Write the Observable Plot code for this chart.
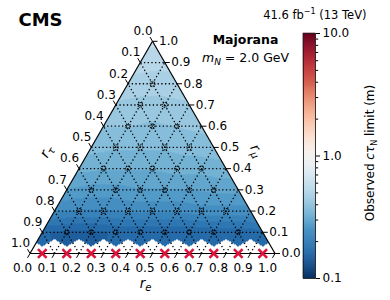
<!DOCTYPE html>
<html><head><meta charset="utf-8">
<script src="https://cdn.jsdelivr.net/npm/d3@7"></script>
<script src="https://cdn.jsdelivr.net/npm/@observablehq/plot@0.6"></script>
<style>
body{margin:0;background:#fff;}
#chart{position:relative;width:390px;height:300px;font-family:"DejaVu Sans",sans-serif;}
#chart svg{position:absolute;left:0;top:0;overflow:visible;}
</style></head><body><div id="chart"></div>
<script>
// ---------- data ----------
const tickValues = [0, 0.1, 0.2, 0.3, 0.4, 0.5, 0.6, 0.7, 0.8, 0.9, 1.0];
const tickLabels = ["0.0","0.1","0.2","0.3","0.4","0.5","0.6","0.7","0.8","0.9","1.0"];
// Observed c tau_N limit (m) on the 0.1 lattice; entry k is r_e = k/10
const lim_mu10 = [0.58];
const lim_mu09 = [0.53, 0.52];
const lim_mu08 = [0.48, 0.47, 0.48];
const lim_mu07 = [0.44, 0.43, 0.43, 0.44];
const lim_mu06 = [0.40, 0.40, 0.39, 0.40, 0.41];
const lim_mu05 = [0.37, 0.36, 0.36, 0.36, 0.37, 0.38];
const lim_mu04 = [0.33, 0.32, 0.32, 0.32, 0.33, 0.33, 0.34];
const lim_mu03 = [0.28, 0.27, 0.27, 0.28, 0.28, 0.28, 0.29, 0.29];
const lim_mu02 = [0.23, 0.22, 0.22, 0.23, 0.23, 0.23, 0.24, 0.24, 0.24];
const lim_mu01 = [0.16, 0.155, 0.155, 0.16, 0.16, 0.16, 0.16, 0.165, 0.165, 0.17];
// r_mu = 0 row: excluded points (red crosses)
const excludedRe = [0.05, 0.15, 0.25, 0.35, 0.45, 0.55, 0.65, 0.75, 0.85, 0.95];
// colour bar
const cbTicks = [0.1, 1, 10];
const cbTickLabels = ["0.1", "1.0", "10.0"];
const cbMinor = [0.2,0.3,0.4,0.5,0.6,0.7,0.8,0.9,2,3,4,5,6,7,8,9];

// ---------- helpers ----------
const limitRows = [lim_mu01, lim_mu02, lim_mu03, lim_mu04, lim_mu05, lim_mu06, lim_mu07, lim_mu08, lim_mu09, lim_mu10];
const S3 = Math.sqrt(3) / 2;
const cart = (e, mu) => ({x: e + mu / 2, y: mu * S3});
const PX = 245;           // px per unit (for tick lengths)
const L = 5 / PX;

function limitAt(P, Q) {
  if (Q <= 0) return null;
  const row = limitRows[Q - 1];
  if (!row) return null;
  const v = row[P];
  return v == null ? null : v;
}
const STEP = 1 / 20;
function field(x, y) {
  const q = (y / S3) * 10;
  const p = (x - (y / S3) / 2) * 10;
  if (q < -1e-9 || p < -1e-9 || p + q > 10 + 1e-9) return NaN;
  const i = Math.floor(p), j = Math.floor(q);
  const fp = p - i, fq = q - j;
  let verts;
  if (fp + fq <= 1) verts = [[i, j, 1 - fp - fq], [i + 1, j, fp], [i, j + 1, fq]];
  else verts = [[i + 1, j + 1, fp + fq - 1], [i + 1, j, 1 - fq], [i, j + 1, 1 - fp]];
  let best = verts[0];
  for (const v of verts) if (v[2] > best[2]) best = v;
  if (best[1] === 0) return NaN;
  let s = 0, sw = 0;
  for (const [P, Q, w] of verts) {
    const v = limitAt(P, Q);
    if (v != null && w > 0) { s += w * Math.log10(v); sw += w; }
  }
  if (!sw) {
    const v = limitAt(best[0], best[1]);
    return v == null ? NaN : v;
  }
  const lv = s / sw;
  return Math.pow(10, (Math.floor(lv / STEP) + 0.5) * STEP);
}

// grid lines
const inner = tickValues.filter(t => t > 0 && t < 1);
const grid = [];
for (const t of inner) {
  const a = cart(0, t), b = cart(1 - t, t);          // const r_mu
  grid.push({x1: a.x, y1: a.y, x2: b.x, y2: b.y});
  const c = cart(t, 0), d = cart(t, 1 - t);          // const r_e
  grid.push({x1: c.x, y1: c.y, x2: d.x, y2: d.y});
  const e = cart(1 - t, 0), f = cart(0, 1 - t);      // const r_tau
  grid.push({x1: e.x, y1: e.y, x2: f.x, y2: f.y});
}
const V = [cart(0, 0), cart(1, 0), cart(0, 1)];
const edges = [[0, 1], [1, 2], [2, 0]].map(([a, b]) => ({x1: V[a].x, y1: V[a].y, x2: V[b].x, y2: V[b].y}));

const bottomTicks = tickValues.map((t, k) => {
  const p = cart(t, 0);
  return {x: p.x, y: p.y, x2: p.x - L * 0.5, y2: p.y - L * S3, label: tickLabels[k]};
});
const leftTicks = tickValues.map((t, k) => {
  const p = cart(0, 1 - t);
  return {x: p.x, y: p.y, x2: p.x - L * 0.5, y2: p.y + L * S3, label: tickLabels[k]};
});
const rightTicks = tickValues.map((t, k) => {
  const p = cart(1 - t, t);
  return {x: p.x, y: p.y, x2: p.x + L, y2: p.y, label: tickLabels[k]};
});

const circles = [];
for (let Q = 1; Q <= 8; Q++) for (let P = 1; P + Q <= 9; P++) circles.push(cart(P / 10, Q / 10));
const crosses = excludedRe.map(e => cart(e, 0));

const colorOpts = {type: "log", domain: [0.1, 10], scheme: "rdbu", reverse: true};
const font = {fontFamily: "DejaVu Sans", fontSize: "12px"};

const main = Plot.plot({
  width: 390, height: 300, margin: 0,
  x: {domain: [0, 1], range: [29.5, 274.5], axis: null},
  y: {domain: [0, S3], range: [253, 253 - PX * S3], axis: null},
  color: colorOpts,
  style: {...font, background: "transparent"},
  marks: [
    Plot.raster({x1: 0, x2: 1, y1: 0, y2: S3, fill: field, pixelSize: 1}),
    Plot.link(grid, {x1: "x1", y1: "y1", x2: "x2", y2: "y2", stroke: "black", strokeWidth: 1.3, strokeDasharray: "1.3,2.4"}),
    Plot.dot(circles, {x: "x", y: "y", r: 2.5, stroke: "black", strokeWidth: 1.1, strokeDasharray: "1,0.9", fill: "none"}),
    Plot.link(edges, {x1: "x1", y1: "y1", x2: "x2", y2: "y2", stroke: "black", strokeWidth: 1.2}),
    Plot.link(bottomTicks, {x1: "x", y1: "y", x2: "x2", y2: "y2", stroke: "black", strokeWidth: 1}),
    Plot.link(leftTicks, {x1: "x", y1: "y", x2: "x2", y2: "y2", stroke: "black", strokeWidth: 1}),
    Plot.link(rightTicks, {x1: "x", y1: "y", x2: "x2", y2: "y2", stroke: "black", strokeWidth: 1}),
    Plot.text(bottomTicks, {x: "x", y: "y", text: "label", dx: -7.5, dy: 15, fontSize: 12}),
    Plot.text(leftTicks, {x: "x", y: "y", text: "label", dx: -9.5, dy: -10, fontSize: 12}),
    Plot.text(rightTicks, {x: "x", y: "y", text: "label", dx: 6.5, dy: 0, textAnchor: "start", fontSize: 12}),
    Plot.dot(crosses, {x: "x", y: "y", symbol: "times", r: 4, stroke: "#dc143c", strokeWidth: 2.6}),
    Plot.text(["rτ"], {x: 0.25, y: 0.5 * S3, dx: -45, dy: 4, rotate: -60, fontSize: 14}),
    Plot.text(["rμ"], {x: 0.75, y: 0.5 * S3, dx: 43, dy: 3, rotate: 60, fontSize: 14}),
    Plot.text(["re"], {x: 0.5, y: 0, dx: -7, dy: 30, fontSize: 13.5}),
    Plot.text(["CMS"], {frameAnchor: "top-left", dx: 18, dy: 20, lineAnchor: "middle", textAnchor: "start", fontSize: 18, fontWeight: "bold"}),
    Plot.text(["41.6 fb-1 (13 TeV)"], {frameAnchor: "top-left", dx: 366, dy: 15, lineAnchor: "middle", textAnchor: "end", fontSize: 11.5}),
    Plot.text(["Majorana"], {frameAnchor: "top-left", dx: 245, dy: 39, lineAnchor: "middle", textAnchor: "middle", fontSize: 12.5, fontWeight: "bold"}),
    Plot.text(["mN = 2.0 GeV"], {frameAnchor: "top-left", dx: 245, dy: 57, lineAnchor: "middle", textAnchor: "middle", fontSize: 12.5})
  ]
});

// colour bar
const nSteps = 240;
const cbSteps = d3.range(nSteps).map(k => {
  const lo = Math.pow(10, -1 + 2 * k / nSteps), hi = Math.pow(10, -1 + 2 * (k + 1) / nSteps);
  return {lo, hi, mid: Math.sqrt(lo * hi)};
});
const bar = Plot.plot({
  width: 390, height: 300,
  marginLeft: 303, marginRight: 75, marginTop: 33, marginBottom: 22,
  x: {domain: [0, 1], axis: null},
  y: {type: "log", domain: [0.1, 10], axis: null},
  color: colorOpts,
  style: {...font, background: "transparent"},
  marks: [
    Plot.rect(cbSteps, {x1: 0, x2: 1, y1: "lo", y2: "hi", fill: "mid", stroke: "mid", strokeWidth: 0.6}),
    Plot.frame({stroke: "#222", strokeWidth: 0.9}),
    Plot.axisY({anchor: "right", ticks: cbTicks, tickFormat: (d) => cbTickLabels[cbTicks.indexOf(d)], tickSize: 4, tickPadding: 3, fontSize: 12, label: null}),
    Plot.axisY({anchor: "right", ticks: cbMinor, tickFormat: () => "", tickSize: 2.2, label: null}),
    Plot.text(["Observed cτN limit (m)"], {frameAnchor: "right", dx: 55, dy: -3, rotate: -90, textAnchor: "middle", lineAnchor: "middle", fontSize: 12})
  ]
});

const root = document.getElementById("chart");
root.appendChild(main);
root.appendChild(bar);

// rich text (italic / sub- and superscripts)
function rich(svg, plain, parts) {
  d3.select(svg).selectAll("text").filter(function () { return this.textContent === plain; }).each(function () {
    const t = d3.select(this);
    t.selectAll("*").remove();
    t.text(null);
    for (const p of parts) {
      const s = t.append("tspan").text(p.t);
      if (p.i) s.attr("font-style", "italic");
      if (p.fs) s.attr("font-size", p.fs);
      if (p.dy) s.attr("dy", p.dy);
    }
  });
}
rich(main, "rτ", [{t: "r", i: 1}, {t: "τ", i: 1, fs: 10, dy: 3}]);
rich(main, "rμ", [{t: "r", i: 1}, {t: "μ", i: 1, fs: 10, dy: 3}]);
rich(main, "re", [{t: "r", i: 1}, {t: "e", i: 1, fs: 10, dy: 3}]);
rich(main, "41.6 fb-1 (13 TeV)", [{t: "41.6 fb"}, {t: "−1", fs: 8, dy: -5}, {t: " (13 TeV)", dy: 5}]);
rich(main, "mN = 2.0 GeV", [{t: "m", i: 1}, {t: "N", i: 1, fs: 9, dy: 3}, {t: " = 2.0 GeV", dy: -3}]);
rich(bar, "Observed cτN limit (m)", [{t: "Observed "}, {t: "cτ", i: 1}, {t: "N", fs: 8, dy: 3}, {t: " limit (m)", dy: -3}]);
</script></body></html>
